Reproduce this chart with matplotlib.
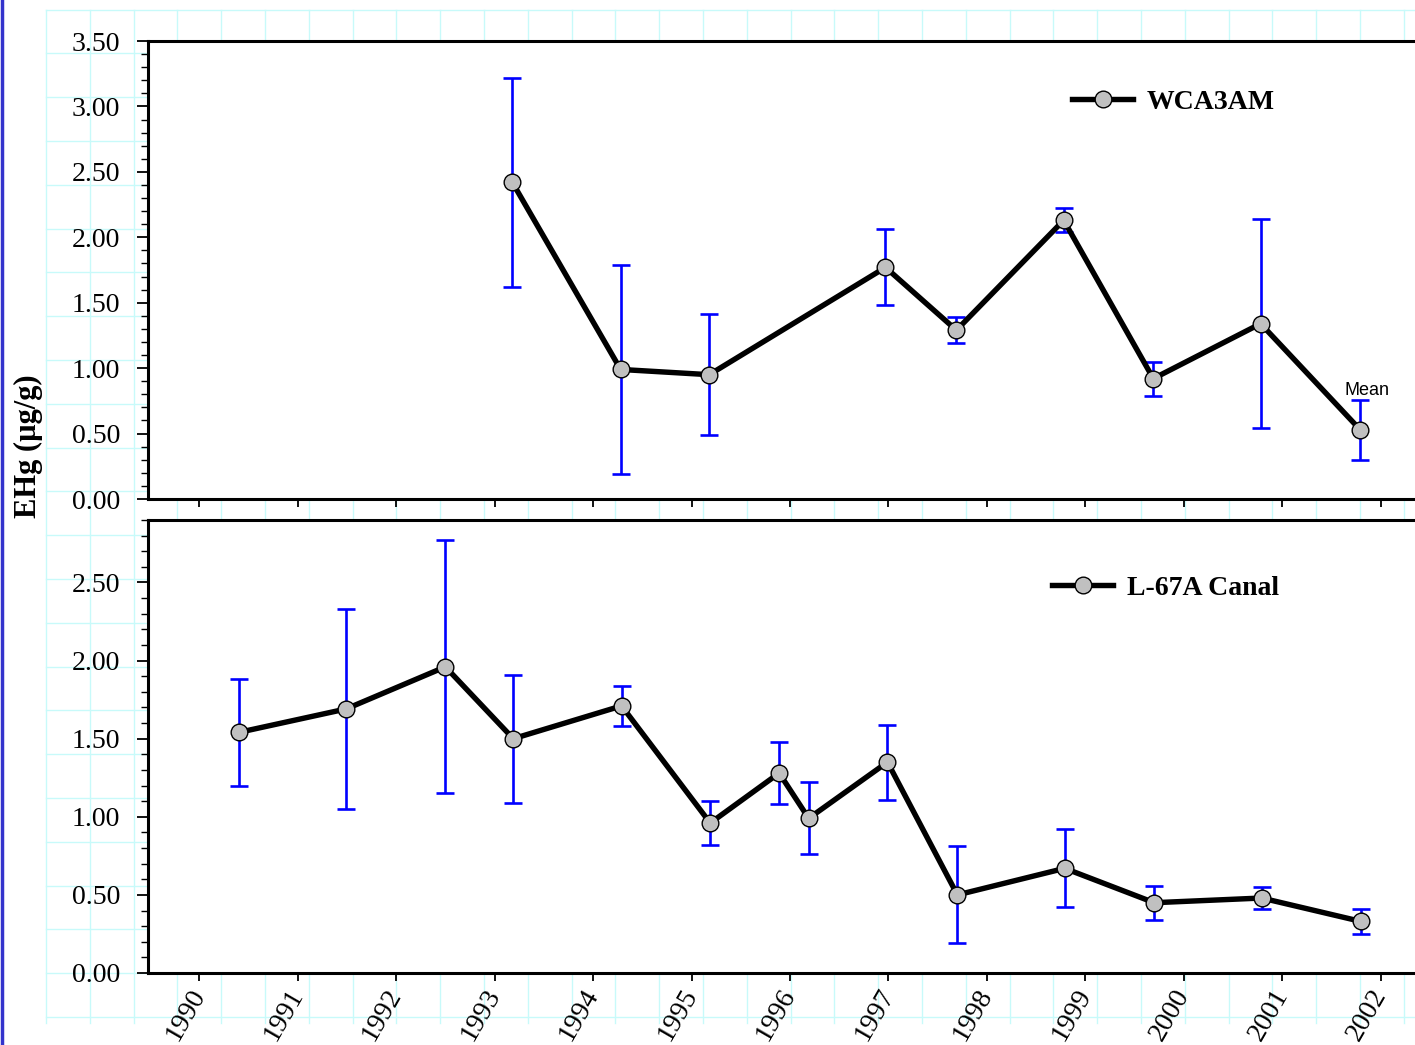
import numpy as np
import matplotlib
matplotlib.use('Agg')
import matplotlib.pyplot as plt
from matplotlib.ticker import MultipleLocator

# WCA3AM
wca_year = [1993.18, 1994.28, 1995.18, 1996.97, 1997.69, 1998.78, 1999.69, 2000.78, 2001.79]
wca_mean = [2.42, 0.99, 0.95, 1.77, 1.29, 2.13, 0.92, 1.34, 0.53]
wca_err = [0.80, 0.80, 0.46, 0.29, 0.10, 0.09, 0.13, 0.80, 0.23]

# L-67A Canal
l67_year = [1990.40, 1991.49, 1992.50, 1993.19, 1994.29, 1995.19, 1995.89,
            1996.19, 1996.99, 1997.70, 1998.79, 1999.70, 2000.79, 2001.80]
l67_mean = [1.54, 1.69, 1.96, 1.50, 1.71, 0.96, 1.28, 0.99, 1.35, 0.50, 0.67, 0.45, 0.48, 0.33]
l67_err = [0.34, 0.64, 0.81, 0.41, 0.13, 0.14, 0.20, 0.23, 0.24, 0.31, 0.25, 0.11, 0.07, 0.08]

years = list(range(1990, 2003))

plt.rcParams['font.family'] = 'Liberation Serif'
W, H = 1415, 1045
fig = plt.figure(figsize=(W / 100, H / 100), dpi=100)

# graph-paper background
bg = fig.add_axes([0, 0, 1, 1], zorder=-10)
bg.set_xlim(0, W)
bg.set_ylim(H, 0)
bg.axis('off')
step = 43.8
for gx in np.arange(46, W, step):
    bg.plot([gx, gx], [9.5, 1023], color='#c8fafa', lw=1)
for gy in np.arange(9.5, 1020, step):
    bg.plot([46, W], [gy, gy], color='#c8fafa', lw=1)
bg.plot([1.5, 1.5], [0, H], color='#3333cc', lw=2.5)


def px_axes(left, top, right, bottom):
    return fig.add_axes([left / W, 1 - bottom / H, (right - left) / W, (bottom - top) / H])


ax1 = px_axes(148, 41, 1430, 499)
ax2 = px_axes(148, 520, 1430, 973)


def draw(ax, x, y, e, label, ylim, ymax_tick, leg_xy):
    ax.errorbar(x, y, yerr=e, fmt='none', ecolor='#0000ff', elinewidth=1.9,
                capsize=6.5, capthick=1.9, zorder=2)
    ax.plot(x, y, color='black', lw=3.9, marker='o', ms=12,
            mfc='#c0c0c0', mec='black', mew=1, zorder=3, label=label)
    ax.set_xlim(1989.48, 2002.50)
    ax.set_ylim(*ylim)
    ax.set_yticks(np.arange(0, ymax_tick + 0.01, 0.5))
    ax.yaxis.set_minor_locator(MultipleLocator(0.1))
    ax.set_yticklabels(['%.2f' % v for v in np.arange(0, ymax_tick + 0.01, 0.5)])
    ax.set_xticks(years)
    for s in ax.spines.values():
        s.set_linewidth(2.2)
    ax.spines['right'].set_visible(False)
    ax.tick_params(axis='y', which='major', length=8, width=1.3, labelsize=20, pad=12)
    ax.tick_params(axis='y', which='minor', length=5, width=1.0)
    ax.tick_params(axis='x', which='major', length=6, width=1.3, labelsize=20)
    ax.legend(loc='center left', bbox_to_anchor=(leg_xy[0] / W, 1 - leg_xy[1] / H),
              bbox_transform=fig.transFigure, frameon=False, borderpad=0,
              borderaxespad=0, handlelength=2.2, handletextpad=0.5,
              prop={'family': 'Liberation Serif', 'weight': 'bold', 'size': 20})


draw(ax1, wca_year, wca_mean, wca_err, 'WCA3AM', (0, 3.5), 3.5, (1072, 102))
draw(ax2, l67_year, l67_mean, l67_err, 'L-67A Canal', (0, 2.9), 2.5, (1052, 588))

ax1.tick_params(axis='x', labelbottom=False)
ax2.set_xticklabels([str(y) for y in years], rotation=60, ha='right', va='center',
                    rotation_mode='anchor')
ax2.tick_params(axis='x', pad=7)

ax1.annotate('Mean', (wca_year[-1], wca_mean[-1]), xytext=(5, 28), textcoords='offset points',
             ha='center', va='center', fontsize=13, family='Liberation Sans')

fig.text(28 / W, 1 - 446 / H, 'EHg (µg/g)', rotation=90, ha='center', va='center',
         fontsize=22, fontweight='bold')

fig.savefig('out.png', dpi=100)
